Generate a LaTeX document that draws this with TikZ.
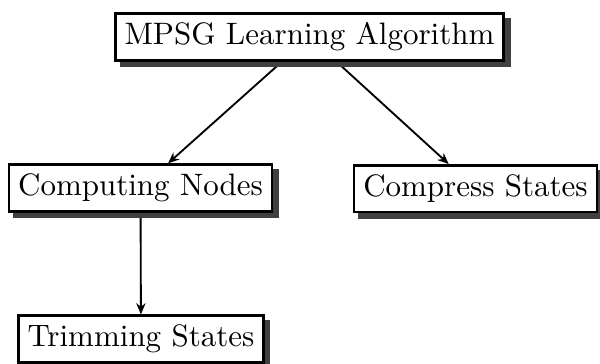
\documentclass[tikz,border=0pt]{standalone}
\usetikzlibrary{shadows,backgrounds,arrows.meta}
\tikzset{
  sbox/.style={draw, fill=white, line width=0.8pt, inner sep=3pt,
    drop shadow={shadow xshift=1.8pt, shadow yshift=-1.8pt, opacity=1,
      fill=black!75, draw=black!75}},
  link/.style={line width=0.6pt, -{Stealth[length=3.6pt,width=3pt]}}
}
\begin{document}
\begin{tikzpicture}[x=0.3226pt,y=-0.3226pt]
  \useasboundingbox (0,0) rectangle (600,363);
  \node[sbox] (root)  at (309.5,37)  {MPSG Learning Algorithm};
  \node[sbox] (comp)  at (140.5,188) {Computing Nodes};
  \node[sbox] (cmpr)  at (475.5,188.5) {Compress States};
  \node[sbox] (trim)  at (141,339)   {Trimming States};
  \begin{pgfonlayer}{background}
    \draw[link] (root) -- (comp);
    \draw[link] (root) -- (cmpr);
    \draw[link] (comp) -- (trim);
  \end{pgfonlayer}
\end{tikzpicture}
\end{document}
